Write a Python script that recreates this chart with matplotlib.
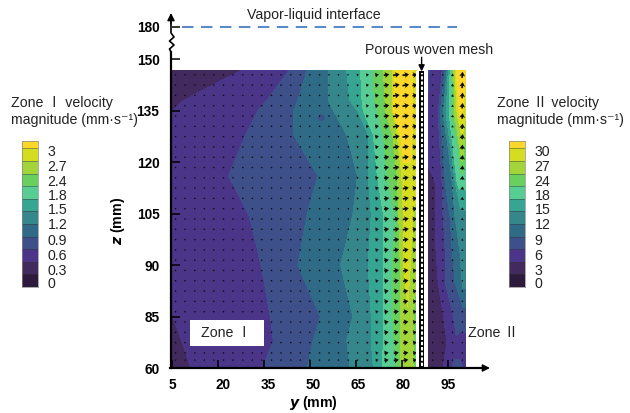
import matplotlib
matplotlib.use("Agg")
import matplotlib.pyplot as plt
import numpy as np
from matplotlib.lines import Line2D
from matplotlib.patches import Rectangle
from matplotlib.transforms import ScaledTranslation

W, H = 630, 413
plt.rcParams["font.family"] = ["Liberation Sans", "Noto Sans CJK SC", "DejaVu Sans"]

# z ticks are evenly spaced in the source, 85 sits where 75 would be
z_tick_pos = [60, 75, 90, 105, 120, 135, 150, 159.4]
z_tick_labels = ["60", "85", "90", "105", "120", "135", "150", "180"]
y_ticks = [5, 20, 35, 50, 65, 80, 95]
y_label_shift = [0, 5, 4, 3, 2, 1, 0]

# zone I contours, each row lists y (mm) and the velocity found there
zone1_z = [146.6, 138, 135, 128, 116, 104.6, 90, 75, 68, 60]
zone1_y = [
    [5, 27.3, 43, 49, 56, 62, 66.5, 70.7, 74, 77, 78.2, 83, 84.7],
    [5, 8.7, 36, 46, 56, 63, 67, 71, 74.5, 77, 77.6, 83, 84.7],
    [5, 5.1, 33, 44.6, 57.7, 65.5, 67.4, 72, 74.6, 77, 77.3, 83.4, 84.7],
    [5, 5.1, 29, 44.6, 62, 69, 70.7, 74, 77, 78.5, 80, 82.8, 84.7],
    [5, 5.1, 23.4, 52.5, 65.5, 69, 72, 75, 78.5, 80, 81, 83, 84.7],
    [5, 5.1, 30, 49, 64, 70, 74, 78, 79, 80.5, 81.5, 82.8, 84.7],
    [5, 5.1, 34, 46, 60, 69, 74, 77, 79.5, 80.5, 81.5, 82.8, 84.7],
    [5, 5.1, 37, 53.4, 64, 70, 74, 77, 79.5, 81, 82, 83.7, 84.7],
    [5, 8, 38, 51, 62, 70, 74, 77.5, 79.5, 81, 82, 83.7, 84.7],
    [5, 11, 34.5, 49, 63, 70.7, 73.6, 78, 79.5, 81, 82, 83.7, 84.7],
]
zone1_v = [
    [0.45, 0.6, 0.9, 1.2, 1.5, 1.8, 2.1, 2.4, 2.7, 3.0, 3.4, 3.4, 3.1],
    [0.45, 0.6, 0.9, 1.2, 1.5, 1.8, 2.1, 2.4, 2.7, 3.0, 3.4, 3.4, 3.1],
    [0.6, 0.6, 0.9, 1.2, 1.5, 1.8, 2.1, 2.4, 2.7, 3.0, 3.4, 3.4, 3.1],
    [0.7, 0.7, 0.9, 1.2, 1.5, 1.8, 2.1, 2.4, 2.7, 3.0, 3.4, 3.4, 3.1],
    [0.7, 0.7, 0.9, 1.2, 1.5, 1.8, 2.1, 2.4, 2.7, 3.0, 3.25, 3.25, 3.1],
    [0.7, 0.7, 0.9, 1.2, 1.5, 1.8, 2.1, 2.4, 2.7, 3.0, 3.25, 3.1, 2.9],
    [0.7, 0.7, 0.9, 1.2, 1.5, 1.8, 2.1, 2.4, 2.7, 3.0, 3.2, 3.0, 2.8],
    [0.6, 0.6, 0.9, 1.2, 1.5, 1.8, 2.1, 2.4, 2.7, 2.95, 2.95, 2.7, 2.5],
    [0.5, 0.6, 0.9, 1.2, 1.5, 1.8, 2.1, 2.4, 2.7, 2.9, 2.9, 2.7, 2.5],
    [0.45, 0.6, 0.9, 1.2, 1.5, 1.8, 2.1, 2.4, 2.7, 2.9, 2.9, 2.7, 2.5],
]

zone2_z = [146.6, 134, 124, 114, 104, 94, 85, 75.6, 67.5, 60]
zone2_y = [
    [88.6, 89.3, 93.2, 94.2, 94.8, 95.2, 95.8, 96.5, 97, 97.4, 98, 100.7],
    [88.6, 90, 91.9, 92.5, 93.5, 94.5, 95.5, 96.5, 97.3, 98.1, 99, 100.7],
    [88.6, 90, 92.5, 93.5, 95.2, 96, 96.8, 98.4, 99, 99.7, 100, 100.7],
    [88.6, 90.9, 93.2, 94.2, 96.5, 97.5, 98.1, 98.6, 99.2, 99.8, 100.3, 100.7],
    [88.6, 90.9, 93.5, 95.8, 97.4, 99, 99.5, 99.8, 100, 100.2, 100.4, 100.7],
    [88.6, 91.2, 94.2, 96.5, 99, 99.5, 99.8, 100, 100.2, 100.3, 100.5, 100.7],
    [88.6, 91.9, 94.2, 97.4, 99.7, 99.9, 100, 100.2, 100.3, 100.4, 100.5, 100.7],
    [88.6, 93.5, 96.8, 100, 100.1, 100.2, 100.3, 100.4, 100.45, 100.5, 100.6, 100.7],
    [88.6, 94.8, 96, 97, 98, 99, 99.5, 100, 100.2, 100.4, 100.5, 100.7],
    [88.6, 93.5, 96.5, 97, 99.5, 100.4, 100.45, 100.5, 100.55, 100.6, 100.65, 100.7],
]
zone2_v = [
    [10, 8, 9, 12, 15, 18, 21, 24, 27, 30, 34, 34],
    [8, 7.5, 9, 12, 15, 18, 21, 24, 27, 30, 34, 31],
    [7, 7, 9, 12, 15, 18, 21, 24, 27, 30, 28, 25],
    [5, 6, 9, 12, 15, 18, 21, 22, 22, 22, 22, 22],
    [5, 6, 9, 12, 15, 17, 17, 17, 17, 17, 17, 17],
    [5, 6, 9, 12, 15, 17, 17, 17, 17, 17, 17, 17],
    [5, 6, 9, 12, 15, 16, 16, 16, 16, 16, 16, 16],
    [5, 6, 9, 12, 11, 11, 11, 11, 11, 11, 11, 11],
    [5, 6, 8, 8, 8, 8, 8, 8, 8, 8, 8, 8],
    [5, 6, 8.9, 9.5, 9.5, 8.5, 8.5, 8.5, 8.5, 8.5, 8.5, 8.5],
]

level_colors = ["#2e1a3c", "#432a5e", "#4b3589", "#3d5089", "#2f6a87", "#35878c",
                "#36a592", "#57cd93", "#69d05e", "#a3d53a", "#d5dd20", "#fdd82b"]
levels1 = [0, 0.3, 0.6, 0.9, 1.2, 1.5, 1.8, 2.1, 2.4, 2.7, 3.0, 3.3, 3.6]
levels2 = [0, 3, 6, 9, 12, 15, 18, 21, 24, 27, 30, 33, 36]
legend1_labels = ["0", "0.3", "0.6", "0.9", "1.2", "1.5", "1.8", "2.4", "2.7", "3"]
legend2_labels = ["0", "3", "6", "9", "12", "15", "18", "24", "27", "30"]

# velocity arrows, one length (px) per column and a scale per row
arrow_z = [145.4, 142.4, 139.4, 136.4, 133.4, 130.4, 127.4, 124.4, 121.4, 118.4,
           115.4, 112.4, 109.4, 106.4, 103.4, 100.4, 97.4, 94.4, 91.4, 88.4,
           85.4, 82.4, 79.4, 76.4, 73.4, 70.4, 67.4, 64.4, 62.3]
arrow_row_scale = [1.1, 1.1, 1.1, 1.1, 1.1, 1.1, 1.1, 1.05, 1.05, 1, 1, 1, 1, 1, 1,
                   1, 0.95, 0.95, 0.9, 0.9, 0.9, 0.85, 0.85, 0.85, 0.85, 0.85, 0.85, 0.85, 0.85]
arrow_row_scale2 = [1.1, 1.1, 1.05, 1, 1, 0.95, 0.9, 0.85, 0.8, 0.75, 0.7, 0.6, 0.55, 0.5, 0.45,
                    0.4, 0.4, 0.35, 0.35, 0.3, 0.3, 0.3, 0.3, 0.3, 0.3, 0.3, 0.3, 0.3, 0.3]
arrow_y1 = [6, 9.1, 12.3, 15.4, 18.5, 21.7, 24.8, 28, 31.1, 34.2, 37.4, 40.5, 43.7,
            46.8, 49.9, 53.1, 56.2, 59.3, 62.5, 65.6, 68.8, 71.9, 75, 78.2, 81.3, 84.3]
arrow_len1 = [0.6, 0.6, 0.6, 0.7, 0.7, 0.7, 0.8, 0.8, 0.8, 0.9, 1, 1, 1, 1.1, 1.2, 1.2,
              1.3, 1.5, 1.6, 2, 2.6, 3.4, 5, 6, 6, 4.5]
arrow_y2 = [90.1, 93.4, 96.6, 99.8]
arrow_up2 = [0.6, 0.7, 2.4, 5.5]

vapor_y = [8, 98]
vapor_z = [159.4, 159.4]
spot_y, spot_z = [53.5], [133]


def fx(px):
    return px / W


def fy(py):
    return 1 - py / H


def make_legend(left, right, labels):
    ax = fig.add_axes([fx(left), fy(287), fx(right - left), (287 - 141) / H])
    edges = [0, 1, 2, 3, 4, 5, 6, 7, 8, 9, 10, 11, 11.58]
    for i, c in enumerate(level_colors):
        ax.axhspan(edges[i], edges[i + 1], color=c, lw=0)
        ax.axhline(edges[i], color="#333333", lw=0.5, alpha=0.6)
    ax.set_ylim(0, 11.58)
    ax.set_xlim(0, 1)
    ax.set_xticks([])
    ax.yaxis.tick_right()
    ax.set_yticks([0.32, 1.42, 2.6, 3.8, 5, 6.2, 7.3, 8.45, 9.6, 10.8])
    ax.set_yticklabels(labels, fontsize=10.2, color="#222222")
    ax.tick_params(axis="y", length=0, pad=7)
    for s in ax.spines.values():
        s.set_color("#888888")
        s.set_linewidth(0.5)


fig = plt.figure(figsize=(W / 100, H / 100), dpi=100)
ax = fig.add_axes([fx(172), fy(368), fx(490 - 172), (368 - 15) / H])
ax.set_xlim(5 - 0.5 / 3.067, 5 + (490 - 171.5) / 3.067)
ax.set_ylim(60, 60 + (368 - 15) / 3.433)
ax.patch.set_alpha(0)

yy1 = np.array(zone1_y)
zz1 = np.tile(np.array(zone1_z)[:, None], (1, yy1.shape[1]))
ax.contourf(yy1, zz1, np.array(zone1_v), levels=levels1, colors=level_colors, extend="neither")
ax.scatter(spot_y, spot_z, s=22, color=level_colors[3], linewidths=0, zorder=2)

yy2 = np.array(zone2_y)
zz2 = np.tile(np.array(zone2_z)[:, None], (1, yy2.shape[1]))
ax.contourf(yy2, zz2, np.array(zone2_v), levels=levels2, colors=level_colors, extend="neither")

# arrows
u1 = np.outer(arrow_row_scale, arrow_len1)
v1 = u1 * 0.15
gy1, gz1 = np.meshgrid(arrow_y1, arrow_z)
qkw = dict(angles="xy", scale_units="dots", scale=1, units="dots", width=1.7,
           headwidth=3.4, headlength=2.6, headaxislength=2.2, minlength=1,
           color="#0c0c0c", pivot="mid", zorder=3)
ax.quiver(gy1, gz1, u1, v1, **qkw)
v2 = np.outer(arrow_row_scale2, arrow_up2)
gy2, gz2 = np.meshgrid(arrow_y2, arrow_z)
ax.quiver(gy2, gz2, v2 * 0.1, v2, **qkw)

# porous mesh
ax.add_patch(Rectangle((84.7, 60), 3.9, 86.6, color="white", lw=0, zorder=4))
ax.add_patch(Rectangle((85.6, 60), 1.75, 86.6, color="black", lw=0, zorder=5))
ax.plot([86.48, 86.48], [60.5, 146], color="white", lw=1.5, ls=(0, (1.6, 0.9)), zorder=6)
ax.annotate("", xy=(86.48, 146.4), xytext=(86.48, 150.5),
            arrowprops=dict(arrowstyle="-|>", color="black", lw=1, mutation_scale=9, shrinkA=0, shrinkB=0))

ax.plot(vapor_y, vapor_z, color="#5b8bc6", lw=1.5, ls=(0, (5.5, 3.6)))

# zone I label
ax.add_patch(Rectangle((5 + (189 - 171.5) / 3.067, 60 + (368 - 346) / 3.433), 74 / 3.067, 26 / 3.433,
                       color="white", lw=0, zorder=7))

for s in ax.spines.values():
    s.set_visible(False)
ax.set_xticks(y_ticks)
ax.set_xticklabels([str(t) for t in y_ticks], fontweight="bold", fontsize=9.8)
ax.set_yticks(z_tick_pos)
ax.set_yticklabels(z_tick_labels, fontweight="bold", fontsize=9.8)
ax.tick_params(axis="both", direction="in", length=6, width=1.1, pad=7, zorder=8)
ax.tick_params(axis="y", pad=9)
for lab, shift in zip(ax.get_xticklabels(), y_label_shift):
    lab.set_transform(lab.get_transform() + ScaledTranslation(shift / 100, 0, fig.dpi_scale_trans))

# axis lines with the break in z
fig.add_artist(Line2D([fx(171), fx(171), fx(169.5), fx(174), fx(169.5), fx(174), fx(171), fx(171)],
                      [fy(368), fy(52), fy(49), fy(45), fy(41), fy(37), fy(33), fy(21)],
                      color="black", lw=1.2))
fig.add_artist(Line2D([fx(171), fx(171)], [fy(368), fy(52)], color="black", lw=1.6))
ax.annotate("", xy=(fx(171), fy(13)), xytext=(fx(171), fy(24)), xycoords="figure fraction",
            textcoords="figure fraction",
            arrowprops=dict(arrowstyle="-|>", color="black", lw=1, mutation_scale=11, shrinkA=0, shrinkB=0))
fig.add_artist(Line2D([fx(170), fx(484)], [fy(368), fy(368)], color="black", lw=1.6))
ax.annotate("", xy=(fx(490), fy(368)), xytext=(fx(480), fy(368)), xycoords="figure fraction",
            textcoords="figure fraction",
            arrowprops=dict(arrowstyle="-|>", color="black", lw=1, mutation_scale=11, shrinkA=0, shrinkB=0))

fs = 10.2
fig.text(fx(314), fy(15), "Vapor-liquid interface", ha="center", va="center", fontsize=fs, color="#222222")
fig.text(fx(429), fy(50), "Porous woven mesh", ha="center", va="center", fontsize=fs, color="#222222")
fig.text(fx(226), fy(333), "Zone Ⅰ", ha="center", va="center", fontsize=fs, color="#222222", zorder=10)
fig.text(fx(468), fy(333), "Zone Ⅱ", ha="left", va="center", fontsize=fs, color="#222222")
fig.text(fx(11), fy(103), "Zone Ⅰ velocity", ha="left", va="center", fontsize=fs, color="#222222")
fig.text(fx(11), fy(120), "magnitude (mm·s⁻¹)", ha="left", va="center", fontsize=fs, color="#222222")
fig.text(fx(497), fy(103), "Zone Ⅱ velocity", ha="left", va="center", fontsize=fs, color="#222222")
fig.text(fx(497), fy(120), "magnitude (mm·s⁻¹)", ha="left", va="center", fontsize=fs, color="#222222")
fig.text(fx(313), fy(403), r"$\bfit{y}$ (mm)", ha="center", va="center", fontsize=10.2, fontweight="bold")
fig.text(fx(118), fy(221), r"$\bfit{z}$ (mm)", ha="center", va="center", fontsize=10.2, fontweight="bold", rotation=90)

make_legend(22, 38, legend1_labels)
make_legend(509, 525, legend2_labels)

fig.savefig("out.png", dpi=100)
